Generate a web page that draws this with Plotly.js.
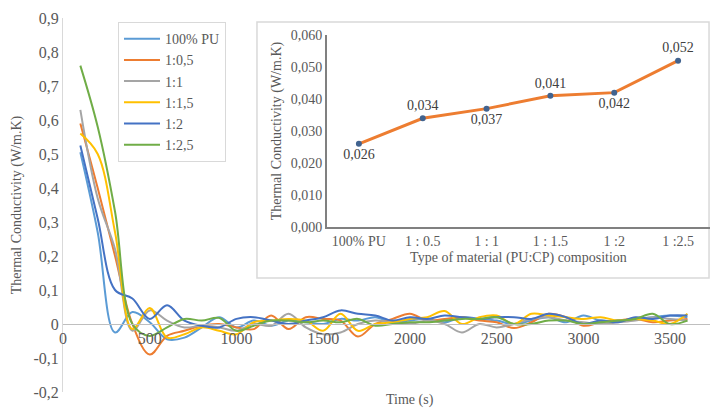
<!DOCTYPE html>
<html>
<head>
<meta charset="utf-8">
<script src="https://cdn.plot.ly/plotly-3.0.1.min.js"></script>
<style>html,body{margin:0;padding:0;background:#fff;}#chart{width:710px;height:410px;}</style>
</head>
<body>
<div id="chart"></div>
<script>
// ---- Data ----
const timeS = [100,200,300,400,500,600,700,800,900,1000,1100,1200,1300,1400,1500,1600,1700,1800,1900,2000,2100,2200,2300,2400,2500,2600,2700,2800,2900,3000,3100,3200,3300,3400,3500,3600];

const seriesNames = ["100% PU", "1:0,5", "1:1", "1:1,5", "1:2", "1:2,5"];

const pu100 = [0.505,0.27,-0.025,0.035,0.005,-0.045,-0.04,-0.01,0.02,-0.01,0.01,-0.005,0.01,0.005,0.0,0.015,0.01,0.02,0.005,0.01,0.015,0.005,0.02,0.015,0.01,0.0,0.01,0.02,0.005,0.025,0.01,0.01,0.015,0.02,0.025,0.02];
const r1_05 = [0.59,0.40,0.20,0.0,-0.09,-0.035,-0.02,-0.005,0.0,-0.01,-0.015,0.025,-0.015,0.02,0.015,0.01,-0.037,0.0,0.015,0.03,0.01,0.015,0.02,0.01,0.005,-0.012,0.005,0.03,0.02,-0.005,0.005,0.01,0.015,0.005,0.01,0.015];
const r1_1 = [0.63,0.37,0.22,-0.02,0.04,0.01,-0.01,-0.005,-0.01,-0.02,0.0,-0.005,0.03,-0.01,-0.03,-0.025,0.0,0.01,0.005,0.0,0.01,0.0,-0.025,0.0,-0.01,0.0,0.015,0.02,0.01,0.005,0.0,0.005,0.01,0.02,0.015,0.01];
const r1_15 = [0.56,0.50,0.27,-0.015,0.047,-0.04,-0.03,-0.01,-0.02,-0.03,0.005,0.01,0.015,0.01,-0.02,0.03,-0.02,0.0,0.005,0.015,0.02,0.038,0.0,0.02,0.025,0.0,0.03,0.025,0.02,0.015,0.02,0.01,0.015,0.01,0.0,0.03];
const r1_2 = [0.525,0.31,0.10,0.075,0.015,0.055,0.01,-0.005,-0.01,0.015,0.02,0.01,0.0,0.01,0.02,0.04,0.03,0.025,0.01,0.02,0.015,0.025,0.02,0.015,0.02,0.02,0.015,0.03,0.02,0.0,0.01,0.005,0.02,0.015,0.025,0.025];
const r1_25 = [0.76,0.58,0.33,0.0,-0.035,-0.01,0.015,0.01,0.018,-0.02,-0.005,0.01,0.01,0.005,0.01,0.005,0.015,-0.005,0.0,0.005,0.005,0.01,0.015,0.015,0.02,0.0,0.0,0.01,0.01,0.0,0.005,0.01,0.015,0.03,0.0,0.01];

const seriesColors = ["#5B9BD5", "#ED7D31", "#A5A5A5", "#FFC000", "#4472C4", "#70AD47"];

const yTickVals = [-0.2,-0.1,0,0.1,0.2,0.3,0.4,0.5,0.6,0.7,0.8,0.9];
const yTickText = ["-0,2","-0,1","0","0,1","0,2","0,3","0,4","0,5","0,6","0,7","0,8","0,9"];
const xTickVals = [0,500,1000,1500,2000,2500,3000,3500];

// Inset data
const insetCats = ["100% PU", "1 : 0.5", "1 : 1", "1 : 1.5", "1 :2", "1 :2.5"];
const insetVals = [0.026, 0.034, 0.037, 0.041, 0.042, 0.052];
const insetLabelPos = ["bottom center","top center","bottom center","top center","bottom center","top center"];
const insetYTickVals = [0, 0.01, 0.02, 0.03, 0.04, 0.05, 0.06];
const insetYTickText = ["0,000","0,010","0,020","0,030","0,040","0,050","0,060"];

// ---- Traces ----
const allSeries = [pu100, r1_05, r1_1, r1_15, r1_2, r1_25];
const FONT = "Liberation Serif";
const traces = allSeries.map((ys, i) => ({
  x: timeS, y: ys, type: "scatter", mode: "lines",
  name: seriesNames[i],
  line: {color: seriesColors[i], width: 2, shape: "spline", smoothing: 1},
  xaxis: "x", yaxis: "y"
}));

traces.push({
  x: insetCats, y: insetVals, type: "scatter", mode: "lines+markers+text",
  showlegend: false,
  line: {color: "#ED7D31", width: 3},
  marker: {color: "#41638F", size: 6},
  text: insetVals.map(v => v.toFixed(3).replace(".", ",")),
  textposition: insetLabelPos,
  textfont: {family: FONT, size: 14, color: "#404040"},
  xaxis: "x2", yaxis: "y2", cliponaxis: false
});

const layout = {
  width: 710, height: 410,
  margin: {l: 63, r: 0, t: 18, b: 18},
  paper_bgcolor: "#fff", plot_bgcolor: "rgba(0,0,0,0)",
  font: {family: FONT, color: "#595959", size: 14},
  separators: ",.",
  showlegend: true,
  legend: {
    x: 0.085, y: 0.989, xanchor: "left", yanchor: "top",
    bordercolor: "#D9D9D9", borderwidth: 1, bgcolor: "#fff",
    font: {family: FONT, size: 14, color: "#595959"},
    itemwidth: 36, tracegroupgap: 0
  },
  xaxis: {
    range: [0, 3730], tickvals: xTickVals,
    anchor: "free", position: 0.1818,
    showline: true, linecolor: "#BFBFBF", linewidth: 1,
    showgrid: false, zeroline: false, ticks: "",
    tickfont: {family: FONT, size: 16, color: "#595959"}
  },
  yaxis: {
    range: [-0.2, 0.9], tickvals: yTickVals, ticktext: yTickText,
    showline: true, linecolor: "#D9D9D9", linewidth: 1,
    showgrid: false, zeroline: false, ticks: "",
    tickfont: {family: FONT, size: 16, color: "#595959"},
    title: {text: "Thermal Conductivity (W/m.K)", font: {family: FONT, size: 14, color: "#595959"}, standoff: 8}
  },
  xaxis2: {
    domain: [0.408, 1.0], anchor: "y2", type: "category",
    range: [-0.5, 5.5],
    showline: true, linecolor: "#808080", linewidth: 2,
    showgrid: false, zeroline: false, ticks: "",
    tickfont: {family: FONT, size: 14, color: "#595959"},
    title: {text: "Type of material (PU:CP) composition", font: {family: FONT, size: 14, color: "#595959"}, standoff: 4}
  },
  yaxis2: {
    domain: [0.441, 0.9545], anchor: "x2",
    range: [0, 0.06], tickvals: insetYTickVals, ticktext: insetYTickText,
    showline: true, linecolor: "#808080", linewidth: 2,
    showgrid: false, zeroline: false, ticks: "",
    tickfont: {family: FONT, size: 14, color: "#595959"},
    title: {text: "Thermal Conductivity (W/m.K)", font: {family: FONT, size: 14, color: "#595959"}, standoff: 6}
  },
  shapes: [{
    type: "rect", xref: "paper", yref: "paper", layer: "below",
    x0: 0.2998, x1: 0.9985, y0: 0.3048, y1: 0.989,
    line: {color: "#D9D9D9", width: 1.5}, fillcolor: "#fff"
  }],
  annotations: [{
    text: "Time (s)", xref: "paper", yref: "paper",
    x: 0.536, y: -0.0214, xanchor: "center", yanchor: "middle",
    showarrow: false, font: {family: FONT, size: 14, color: "#595959"}
  }]
};

Plotly.newPlot("chart", traces, layout, {displayModeBar: false, staticPlot: true});
</script>
</body>
</html>
